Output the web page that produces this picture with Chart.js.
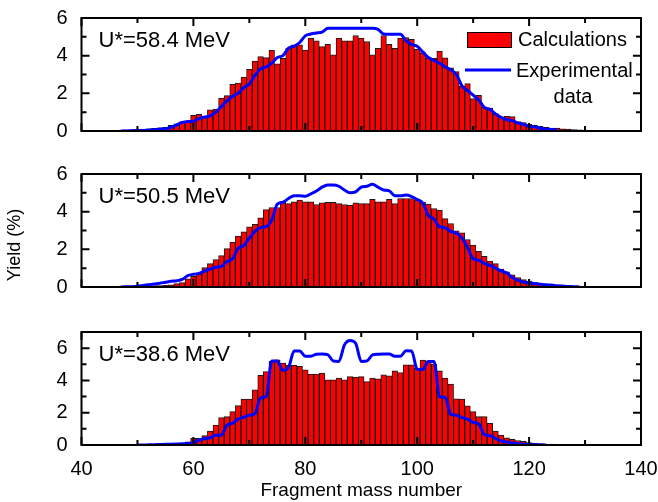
<!DOCTYPE html>
<html>
<head>
<meta charset="utf-8">
<title>Fragment mass yields</title>
<script src="https://cdn.jsdelivr.net/npm/chart.js@4.4.1/dist/chart.umd.min.js"></script>
<style>
  html, body { margin: 0; padding: 0; background: #fff; }
  #wrap { position: relative; width: 658px; height: 502px; overflow: hidden; }
  #wrap canvas { position: absolute; left: 0; }
  #yTitle {
    position: absolute; left: -35px; top: 234px; width: 100px; height: 22px;
    line-height: 22px; text-align: center; color: #000;
    font: 18px 'Liberation Sans', Arial, sans-serif;
    transform: rotate(-90deg);
  }
</style>
</head>
<body>
<div id="wrap">
  <canvas id="panel1" width="658" height="155" style="top:0"></canvas>
  <canvas id="panel2" width="658" height="150" style="top:155px"></canvas>
  <canvas id="panel3" width="658" height="197" style="top:305px"></canvas>
  <div id="yTitle">Yield (%)</div>
</div>
<script>
/* ---------- data ---------- */
const xTicks      = [40, 60, 80, 100, 120, 140];
const xMinorTicks = [50, 70, 90, 110, 130];
const yTicks      = [0, 2, 4, 6];
const yMinorTicks = [1, 3, 5];

const panelLabels = ['U*=58.4 MeV', 'U*=50.5 MeV', 'U*=38.6 MeV'];
const panelYMax   = [6, 6, 7];

// first mass number of each series
const calcStart = [41, 41, 48];
const expStart  = [47, 47, 50];

// U* = 58.4 MeV, calculations, A = 41..131
const calc584 = [
  0.02, 0.02, 0.02, 0.03, 0.03, 0.04, 0.05, 0.06, 0.07, 0.08,
  0.10, 0.12, 0.14, 0.17, 0.20, 0.30, 0.38, 0.47, 0.47, 0.83,
  0.88, 0.78, 1.13, 1.17, 1.75, 1.88, 2.48, 2.54, 2.86, 3.27,
  3.71, 3.95, 3.90, 4.28, 3.56, 3.86, 4.40, 4.57, 4.57, 4.30,
  4.93, 4.79, 4.48, 4.60, 4.04, 4.93, 4.79, 4.79, 5.07, 4.93,
  4.75, 4.04, 4.39, 5.07, 4.60, 4.39, 4.93, 4.96, 4.87, 4.34,
  4.16, 3.86, 3.86, 4.25, 3.89, 3.36, 3.15, 2.38, 2.52, 1.72,
  1.90, 1.27, 1.22, 0.92, 0.74, 0.78, 0.76, 0.50, 0.45, 0.35,
  0.30, 0.25, 0.20, 0.15, 0.15, 0.12, 0.10, 0.08, 0.06, 0.05, 0.03
];
// U* = 58.4 MeV, experiment, A = 47..125
const exp584 = [
  0.00, 0.00, 0.01, 0.02,
  0.03, 0.05, 0.07, 0.10, 0.12, 0.20, 0.33, 0.45, 0.50, 0.52,
  0.66, 0.74, 0.80, 1.00, 1.30, 1.60, 1.85, 2.00, 2.30, 2.50,
  2.95, 3.30, 3.40, 3.60, 3.90, 4.00, 4.40, 4.50, 4.70, 5.05,
  5.15, 5.20, 5.25, 5.45, 5.46, 5.46, 5.46, 5.46, 5.46, 5.46,
  5.46, 5.46, 5.40, 5.15, 5.14, 5.14, 5.14, 4.80, 4.60, 4.50,
  4.20, 3.90, 3.75, 3.60, 3.40, 3.25, 3.00, 2.40, 2.15, 1.90,
  1.65, 1.25, 1.15, 0.90, 0.72, 0.60, 0.55, 0.42, 0.35, 0.25,
  0.22, 0.15, 0.10, 0.08, 0.05
];

// U* = 50.5 MeV, calculations, A = 41..135
const calc505 = [
  0.02, 0.02, 0.02, 0.03, 0.03, 0.03, 0.04, 0.04, 0.05, 0.05,
  0.06, 0.07, 0.07, 0.08, 0.09, 0.12, 0.18, 0.23, 0.44, 0.57,
  0.71, 1.03, 1.24, 1.45, 1.67, 2.04, 2.39, 2.70, 2.93, 3.19,
  3.33, 3.67, 4.11, 4.22, 4.22, 4.52, 4.43, 4.52, 4.61, 4.52,
  4.52, 4.38, 4.47, 4.50, 4.50, 4.43, 4.38, 4.34, 4.47, 4.43,
  4.43, 4.65, 4.52, 4.52, 4.65, 4.43, 4.70, 4.70, 4.70, 4.61,
  4.49, 4.40, 4.17, 4.08, 3.63, 3.37, 2.98, 2.87, 2.52, 2.22,
  1.90, 1.63, 1.38, 1.24, 0.95, 0.80, 0.65, 0.50, 0.40, 0.32,
  0.25, 0.18, 0.14, 0.11, 0.09, 0.07, 0.05, 0.04, 0.04, 0.03,
  0.03, 0.02, 0.02, 0.02, 0.02
];
// U* = 50.5 MeV, experiment, A = 47..129
const exp505 = [
  0.00, 0.01, 0.02, 0.04,
  0.08, 0.12, 0.16, 0.20, 0.25, 0.30, 0.33, 0.40, 0.60, 0.68,
  0.72, 0.85, 0.95, 1.05, 1.10, 1.35, 1.50, 2.05, 2.20, 2.60,
  2.95, 3.15, 3.20, 3.55, 4.40, 4.50, 4.70, 4.85, 4.85, 4.82,
  4.95, 5.10, 5.30, 5.42, 5.42, 5.35, 5.15, 5.00, 5.05, 5.30,
  5.35, 5.45, 5.30, 5.15, 5.10, 4.85, 4.84, 4.88, 4.80, 4.65,
  4.45, 3.80, 3.60, 3.20, 3.15, 2.95, 2.85, 2.60, 2.10, 1.50,
  1.42, 1.25, 1.15, 1.00, 0.85, 0.75, 0.50, 0.35, 0.27, 0.22,
  0.18, 0.15, 0.12, 0.10, 0.07, 0.05, 0.03, 0.02, 0.00
];

// U* = 38.6 MeV, calculations, A = 48..130
const calc386 = [
  0.01, 0.02, 0.02,
  0.02, 0.02, 0.03, 0.06, 0.03, 0.04, 0.06, 0.10, 0.20, 0.41,
  0.41, 0.58, 0.87, 1.24, 1.70, 1.76, 2.07, 2.44, 2.84, 2.84,
  3.42, 4.31, 4.55, 5.18, 5.28, 5.07, 4.93, 4.93, 4.87, 4.66,
  4.39, 4.39, 4.45, 4.04, 4.04, 4.14, 4.04, 4.24, 4.20, 4.24,
  3.93, 4.14, 4.10, 4.35, 4.29, 4.60, 4.49, 4.97, 4.97, 4.76,
  5.26, 5.22, 5.01, 4.60, 4.14, 3.77, 2.86, 2.84, 2.42, 2.07,
  1.76, 1.76, 1.35, 0.87, 0.62, 0.45, 0.35, 0.28, 0.22, 0.15,
  0.12, 0.08, 0.06, 0.05, 0.04, 0.03, 0.03, 0.02, 0.02, 0.02
];
// U* = 38.6 MeV, experiment, A = 50..123
const exp386 = [
  0.00,
  0.00, 0.01, 0.02, 0.03, 0.04, 0.05, 0.06, 0.07, 0.09, 0.15,
  0.30, 0.40, 0.45, 0.60, 0.62, 1.22, 1.35, 1.60, 1.72, 1.85,
  1.95, 2.92, 3.00, 5.20, 5.20, 4.62, 4.80, 5.82, 5.82, 5.50,
  5.50, 5.62, 5.63, 5.60, 5.20, 5.18, 6.20, 6.48, 6.30, 5.18,
  5.20, 5.58, 5.62, 5.63, 5.63, 5.50, 5.50, 5.84, 5.82, 4.70,
  4.68, 5.18, 5.18, 3.00, 2.95, 1.90, 1.85, 1.70, 1.60, 1.40,
  1.30, 0.65, 0.58, 0.40, 0.25, 0.19, 0.12, 0.08, 0.05, 0.04,
  0.02, 0.01, 0.00
];

const calcSeries = [calc584, calc505, calc386];
const expSeries  = [exp584, exp505, exp386];

/* ---------- defaults ---------- */
const FONT = "'Liberation Sans', Arial, sans-serif";
Chart.defaults.font.family = FONT;
Chart.defaults.color = '#000';

// turn a start mass + list of yields into {x, y} points
function toPoints(start, values) {
  return values.map((v, i) => ({ x: start + i, y: v }));
}

/* ---------- frame, inward ticks, energy label, legend ---------- */
const panelFrame = {
  id: 'panelFrame',
  afterDatasetsDraw(chart, args, opts) {
    const { ctx, chartArea: a } = chart;
    const xs = chart.scales.x, ys = chart.scales.y;
    ctx.save();
    ctx.strokeStyle = '#000';
    ctx.lineWidth = 2;
    ctx.beginPath();
    const seg = (x1, y1, x2, y2) => { ctx.moveTo(x1, y1); ctx.lineTo(x2, y2); };
    xTicks.forEach(v => { const p = xs.getPixelForValue(v); seg(p, a.bottom, p, a.bottom - 8); seg(p, a.top, p, a.top + 8); });
    xMinorTicks.forEach(v => { const p = xs.getPixelForValue(v); seg(p, a.bottom, p, a.bottom - 5); seg(p, a.top, p, a.top + 5); });
    yTicks.forEach(v => { const p = ys.getPixelForValue(v); seg(a.left, p, a.left + 8, p); seg(a.right, p, a.right - 8, p); });
    yMinorTicks.forEach(v => { const p = ys.getPixelForValue(v); seg(a.left, p, a.left + 5, p); seg(a.right, p, a.right - 5, p); });
    ctx.stroke();
    ctx.strokeRect(a.left, a.top, a.right - a.left, a.bottom - a.top);

    ctx.fillStyle = '#000';
    ctx.textBaseline = 'middle';
    ctx.font = '22px ' + FONT;
    ctx.fillText(opts.label, a.left + 17, a.top + 23);

    if (opts.legend) {
      const lx = a.right - 174, ly = a.top + 14;
      ctx.fillStyle = '#ff0000';
      ctx.fillRect(lx, ly, 45, 16);
      ctx.lineWidth = 1;
      ctx.strokeRect(lx + 0.5, ly + 0.5, 44, 15);
      ctx.fillStyle = '#000';
      ctx.font = '20px ' + FONT;
      ctx.fillText('Calculations', lx + 51, ly + 8);
      ctx.strokeStyle = '#0000ff';
      ctx.lineWidth = 3;
      ctx.beginPath();
      ctx.moveTo(lx - 2, ly + 38);
      ctx.lineTo(lx + 44, ly + 38);
      ctx.stroke();
      ctx.fillText('Experimental', lx + 49, ly + 39);
      ctx.textAlign = 'center';
      ctx.fillText('data', lx + 106, ly + 65);
    }
    ctx.restore();
  }
};

/* ---------- one panel ---------- */
function makePanel(id, i, padding) {
  const bottom = i === 2;
  return new Chart(document.getElementById(id), {
    type: 'bar',
    data: {
      datasets: [
        {
          type: 'line',
          label: 'Experimental data',
          data: toPoints(expStart[i], expSeries[i]),
          borderColor: '#0000ff',
          borderWidth: 3,
          pointRadius: 0,
          cubicInterpolationMode: 'monotone',
          borderJoinStyle: 'round',
          order: 0
        },
        {
          type: 'bar',
          label: 'Calculations',
          data: toPoints(calcStart[i], calcSeries[i]),
          backgroundColor: '#ff0000',
          borderColor: 'rgba(0,0,0,0.9)',
          borderWidth: 1,
          barPercentage: 1,
          categoryPercentage: 1,
          order: 1
        }
      ]
    },
    options: {
      responsive: false,
      animation: false,
      events: [],
      layout: { padding },
      plugins: {
        legend: { display: false },
        tooltip: { enabled: false },
        panelFrame: { label: panelLabels[i], legend: i === 0 }
      },
      scales: {
        x: {
          type: 'linear',
          min: 40, max: 140,
          offset: false,
          display: bottom,
          afterBuildTicks: s => { s.ticks = xTicks.map(v => ({ value: v })); },
          afterFit: s => { s.height = bottom ? 57 : 0; s.paddingLeft = 0; s.paddingRight = 0; },
          grid: { display: false, drawTicks: false },
          border: { display: false },
          ticks: { padding: 12, maxRotation: 0, autoSkip: false, font: { size: 20 }, color: '#000' },
          title: { display: true, text: 'Fragment mass number', font: { size: 19 }, color: '#000', padding: 0 }
        },
        y: {
          min: 0, max: panelYMax[i],
          afterBuildTicks: s => { s.ticks = yTicks.map(v => ({ value: v })); },
          afterFit: s => { s.width = 81.5; s.paddingTop = 0; s.paddingBottom = 0; },
          grid: { display: false, drawTicks: false },
          border: { display: false },
          ticks: { padding: 14, font: { size: 20 }, color: '#000' }
        }
      }
    },
    plugins: [panelFrame]
  });
}

makePanel('panel1', 0, { top: 18, right: 17, bottom: 24, left: 0 });
makePanel('panel2', 1, { top: 19, right: 17, bottom: 18, left: 0 });
makePanel('panel3', 2, { top: 27, right: 17, bottom: 0, left: 0 });
</script>
</body>
</html>
